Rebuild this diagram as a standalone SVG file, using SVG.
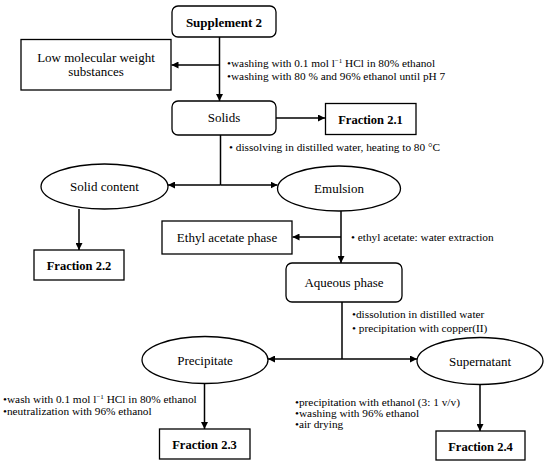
<svg xmlns="http://www.w3.org/2000/svg" width="550" height="466" viewBox="0 0 550 466">
<style>
.box{fill:#fff;stroke:#000;stroke-width:1.3}
.ln{stroke:#000;stroke-width:1.5;fill:none}
text{font-family:'Liberation Serif','Times New Roman',serif;fill:#000}
.t{font-size:13px;text-anchor:middle}
.b{font-weight:bold;font-size:12.5px}
.n{font-size:11.3px}
.sup{font-size:7px}
</style>
<defs>
<marker id="ah" viewBox="0 0 10 10" refX="10" refY="5" markerWidth="7" markerHeight="7" markerUnits="userSpaceOnUse" orient="auto">
<path d="M0,0 L10,5 L0,10 z" fill="#000"/>
</marker>
</defs>
<g id="connectors">
<line class="ln" x1="219.5" y1="37" x2="219.5" y2="101" marker-end="url(#ah)"/>
<line class="ln" x1="219.5" y1="65" x2="171.5" y2="65" marker-end="url(#ah)"/>
<line class="ln" x1="276" y1="118" x2="325" y2="118" marker-end="url(#ah)"/>
<line class="ln" x1="220.5" y1="135" x2="220.5" y2="185"/>
<line class="ln" x1="220.5" y1="185" x2="168" y2="185" marker-end="url(#ah)"/>
<line class="ln" x1="220.5" y1="185" x2="277.5" y2="185" marker-end="url(#ah)"/>
<line class="ln" x1="79" y1="209" x2="79" y2="250" marker-end="url(#ah)"/>
<line class="ln" x1="341" y1="211" x2="341" y2="263" marker-end="url(#ah)"/>
<line class="ln" x1="341" y1="237" x2="292.5" y2="237" marker-end="url(#ah)"/>
<line class="ln" x1="342" y1="302" x2="342" y2="359"/>
<line class="ln" x1="342" y1="359" x2="268" y2="359" marker-end="url(#ah)"/>
<line class="ln" x1="342" y1="359" x2="417" y2="359" marker-end="url(#ah)"/>
<line class="ln" x1="204.5" y1="383.5" x2="204.5" y2="429" marker-end="url(#ah)"/>
<line class="ln" x1="480" y1="384.5" x2="480" y2="431" marker-end="url(#ah)"/>
</g>
<g id="notes">
<text class="n" x="227" y="67">•washing with 0.1 mol l<tspan class="sup" baseline-shift="super">−1</tspan> HCl in 80% ethanol</text>
<text class="n" x="227" y="80">•washing with 80 % and 96% ethanol until pH 7</text>
<text class="n" x="229" y="151">• dissolving in distilled water, heating to 80 °C</text>
<text class="n" x="351" y="241">• ethyl acetate: water extraction</text>
<text class="n" x="352" y="318">•dissolution in distilled water</text>
<text class="n" x="352" y="332">• precipitation with copper(II)</text>
<text class="n" x="3" y="403">•wash with 0.1 mol l<tspan class="sup" baseline-shift="super">−1</tspan> HCl in 80% ethanol</text>
<text class="n" x="3" y="415">•neutralization with 96% ethanol</text>
<text class="n" x="295" y="406">•precipitation with ethanol (3: 1 v/v)</text>
<text class="n" x="295" y="417">•washing with 96% ethanol</text>
<text class="n" x="295" y="428">•air drying</text>
</g>
<g id="supplement2"><rect class="box" x="172" y="6" width="104" height="31" rx="6"/><text class="t" font-weight="bold" x="224" y="27">Supplement 2</text></g>
<g id="lowmw"><rect class="box" x="21" y="39.5" width="150" height="50.5"/><text class="t" x="96" y="61.5">Low molecular weight</text><text class="t" x="96" y="76">substances</text></g>
<g id="solids"><rect class="box" x="172" y="101" width="104" height="34" rx="6"/><text class="t" x="224" y="122">Solids</text></g>
<g id="fraction21"><rect class="box" x="325.5" y="103.5" width="90.5" height="31"/><text class="t b" x="370.5" y="124">Fraction 2.1</text></g>
<g id="solidcontent"><ellipse class="box" cx="104.5" cy="186.5" rx="63.5" ry="22.5"/><text class="t" x="104.5" y="191">Solid content</text></g>
<g id="emulsion"><ellipse class="box" cx="339" cy="188.5" rx="61.5" ry="22.5"/><text class="t" x="339" y="193">Emulsion</text></g>
<g id="fraction22"><rect class="box" x="34" y="250" width="90" height="30"/><text class="t b" x="79" y="270">Fraction 2.2</text></g>
<g id="ethylacetate"><rect class="box" x="162" y="221" width="130" height="33"/><text class="t" x="227" y="242">Ethyl acetate phase</text></g>
<g id="aqueous"><rect class="box" x="286" y="263" width="116" height="39" rx="6"/><text class="t" x="344" y="287">Aqueous phase</text></g>
<g id="precipitate"><ellipse class="box" cx="205" cy="360" rx="63" ry="23.5"/><text class="t" x="205" y="365">Precipitate</text></g>
<g id="supernatant"><ellipse class="box" cx="480" cy="361" rx="63" ry="23.5"/><text class="t" x="480" y="366">Supernatant</text></g>
<g id="fraction23"><rect class="box" x="159.5" y="429" width="90.5" height="30"/><text class="t b" x="204.5" y="449">Fraction 2.3</text></g>
<g id="fraction24"><rect class="box" x="436" y="431" width="89" height="29"/><text class="t b" x="480.5" y="450.5">Fraction 2.4</text></g>
</svg>
